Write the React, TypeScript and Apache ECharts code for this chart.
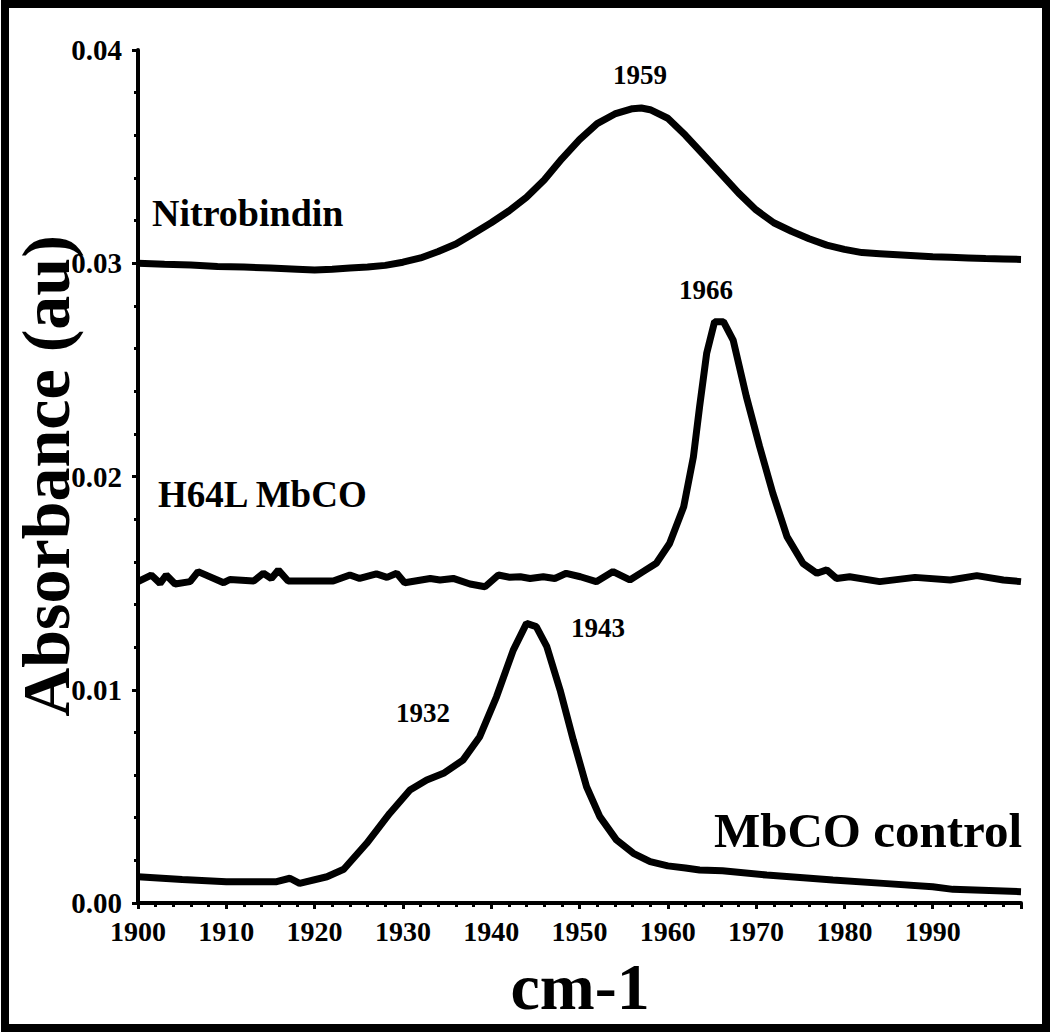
import React, { useEffect, useRef } from "react";
import * as echarts from "echarts";

// ---- data (wavenumber cm-1, absorbance au) ----
const nitroX = [1900, 1903, 1906, 1909, 1912, 1915, 1918, 1920, 1922, 1924, 1926, 1928, 1930, 1932, 1934, 1936, 1938, 1940, 1942, 1944, 1946, 1948, 1950, 1952, 1954, 1956, 1957, 1958, 1960, 1962, 1964, 1966, 1968, 1970, 1972, 1974, 1976, 1978, 1980, 1982, 1984, 1986, 1988, 1990, 1992, 1994, 1996, 1998, 2000];
const nitroY = [0.0300, 0.02995, 0.02992, 0.02985, 0.02982, 0.02978, 0.02972, 0.02968, 0.02972, 0.02978, 0.02982, 0.0299, 0.03005, 0.03025, 0.03055, 0.0309, 0.0314, 0.0319, 0.03245, 0.0331, 0.0339, 0.0349, 0.0358, 0.03655, 0.037, 0.03725, 0.03728, 0.0372, 0.0368, 0.036, 0.0351, 0.0342, 0.0333, 0.0325, 0.0319, 0.0315, 0.03115, 0.03085, 0.03065, 0.0305, 0.03045, 0.0304, 0.03035, 0.0303, 0.03028, 0.03025, 0.03022, 0.0302, 0.03018];

const h64lX = [1900, 1901.5, 1902.5, 1903.2, 1904.2, 1905.9, 1906.8, 1909.7, 1910.4, 1913.1, 1914.2, 1915.1, 1915.9, 1917, 1922.1, 1924, 1925.1, 1927, 1928.2, 1929.3, 1930.2, 1933.1, 1934.2, 1935.7, 1937.6, 1939.3, 1940.8, 1942.1, 1943.3, 1944.4, 1945.9, 1947.2, 1948.5, 1950.1, 1951.9, 1953.8, 1955.7, 1957.2, 1958.7, 1960.2, 1961.8, 1962.9, 1963.6, 1964.4, 1965.3, 1966.3, 1967.4, 1968.9, 1970.4, 1971.9, 1973.5, 1975.3, 1976.9, 1978, 1979.1, 1980.6, 1984, 1988, 1992, 1995, 1998, 2000];
const h64lY = [0.01507, 0.01538, 0.01499, 0.01538, 0.01496, 0.01507, 0.01554, 0.01502, 0.01517, 0.0151, 0.01546, 0.01522, 0.01561, 0.0151, 0.0151, 0.01538, 0.01522, 0.01543, 0.01527, 0.01546, 0.01502, 0.01522, 0.01515, 0.01522, 0.01496, 0.01483, 0.01538, 0.01527, 0.0153, 0.01522, 0.0153, 0.01522, 0.01546, 0.0153, 0.01507, 0.01554, 0.01515, 0.01554, 0.01593, 0.01686, 0.01858, 0.02092, 0.02327, 0.02577, 0.02726, 0.02726, 0.0264, 0.02374, 0.0214, 0.01921, 0.01718, 0.01593, 0.01546, 0.01562, 0.01522, 0.0153, 0.01507, 0.01527, 0.01515, 0.01535, 0.01515, 0.01507];

const mbcoX = [1900, 1905, 1910, 1915.7, 1917.2, 1918.3, 1921.4, 1923.3, 1925.9, 1928.5, 1930.8, 1932.7, 1934.6, 1936.8, 1938.7, 1940.6, 1942.5, 1944, 1945.1, 1946.3, 1947.8, 1949.3, 1950.8, 1952.3, 1954.2, 1956.1, 1958, 1960, 1962, 1963.6, 1966.2, 1971.2, 1976.1, 1978.7, 1984.4, 1990, 1992.3, 2000];
const mbcoY = [0.00123, 0.0011, 0.001, 0.001, 0.00116, 0.00092, 0.00123, 0.00158, 0.0028, 0.0042, 0.0053, 0.00577, 0.00608, 0.0067, 0.0078, 0.00967, 0.01186, 0.01311, 0.01296, 0.01202, 0.00999, 0.00764, 0.00545, 0.00405, 0.00295, 0.00233, 0.00194, 0.00174, 0.00164, 0.00155, 0.00151, 0.00131, 0.00116, 0.00108, 0.00092, 0.00076, 0.00064, 0.00053];

const xTicks = { min: 1900, max: 2000, interval: 10 };
const yTicks = { min: 0, max: 0.04, interval: 0.01 };

const seriesNames = ["Nitrobindin", "H64L MbCO", "MbCO control"];
const peakLabels = ["1959", "1966", "1943", "1932"];

const zip = (xs: number[], ys: number[]) => xs.map((x, i) => [x, ys[i]]);

const FONT = "Liberation Serif";

export default function App() {
  const ref = useRef<HTMLDivElement>(null);
  useEffect(() => {
    document.body.style.margin = "0";
    const chart = echarts.init(ref.current!, undefined, { renderer: "svg" });
    const lineStyle = { color: "#000", width: 7 };
    const txt = (text: string, x: number, y: number, size: number, align = "center", rot = 0) => ({
      type: "text",
      x,
      y,
      rotation: rot,
      style: {
        text,
        fill: "#000",
        fontFamily: FONT,
        fontWeight: "bold",
        fontSize: size,
        align,
        verticalAlign: "middle",
      },
    });
    chart.setOption({
      animation: false,
      backgroundColor: "#fff",
      textStyle: { fontFamily: FONT },
      grid: { left: 138, right: 29, top: 50, bottom: 131 },
      xAxis: {
        type: "value",
        min: xTicks.min,
        max: xTicks.max,
        interval: xTicks.interval,
        axisLine: { lineStyle: { color: "#000", width: 4 } },
        axisTick: { show: true, length: 6, lineStyle: { color: "#000", width: 3 } },
        minorTick: { show: true, splitNumber: 5, length: 4, lineStyle: { color: "#000", width: 3 } },
        splitLine: { show: false },
        axisLabel: {
          color: "#000",
          fontFamily: FONT,
          fontWeight: "bold",
          fontSize: 28,
          margin: 14,
          formatter: (v: number) => (v >= 2000 ? "" : String(v)),
        },
      },
      yAxis: {
        type: "value",
        min: yTicks.min,
        max: yTicks.max,
        interval: yTicks.interval,
        axisLine: { show: true, lineStyle: { color: "#000", width: 4 } },
        axisTick: { show: true, length: 6, lineStyle: { color: "#000", width: 3 } },
        minorTick: { show: true, splitNumber: 5, length: 4, lineStyle: { color: "#000", width: 3 } },
        splitLine: { show: false },
        axisLabel: {
          color: "#000",
          fontFamily: FONT,
          fontWeight: "bold",
          fontSize: 29,
          margin: 16,
          formatter: (v: number) => v.toFixed(2),
        },
      },
      series: [
        { name: seriesNames[0], type: "line", data: zip(nitroX, nitroY), symbol: "none", lineStyle, z: 3 },
        { name: seriesNames[1], type: "line", data: zip(h64lX, h64lY), symbol: "none", lineStyle, z: 3 },
        { name: seriesNames[2], type: "line", data: zip(mbcoX, mbcoY), symbol: "none", lineStyle, z: 3 },
      ],
      graphic: [
        {
          type: "rect",
          shape: { x: 5, y: 4, width: 1041, height: 1024 },
          style: { fill: "none", stroke: "#000", lineWidth: 8 },
          silent: true,
        },
        txt("Absorbance (au)", 46, 476, 68, "center", Math.PI / 2),
        txt("cm-1", 580, 986, 66),
        txt(seriesNames[0], 152, 213, 38, "left"),
        txt(seriesNames[1], 158, 494, 37, "left"),
        txt(seriesNames[2], 1022, 830, 49, "right"),
        txt(peakLabels[0], 640, 75, 27),
        txt(peakLabels[1], 706, 290, 27),
        txt(peakLabels[2], 598, 628, 27),
        txt(peakLabels[3], 423, 713, 27),
      ],
    });
    return () => chart.dispose();
  }, []);
  return <div ref={ref} style={{ width: 1050, height: 1034 }} />;
}
